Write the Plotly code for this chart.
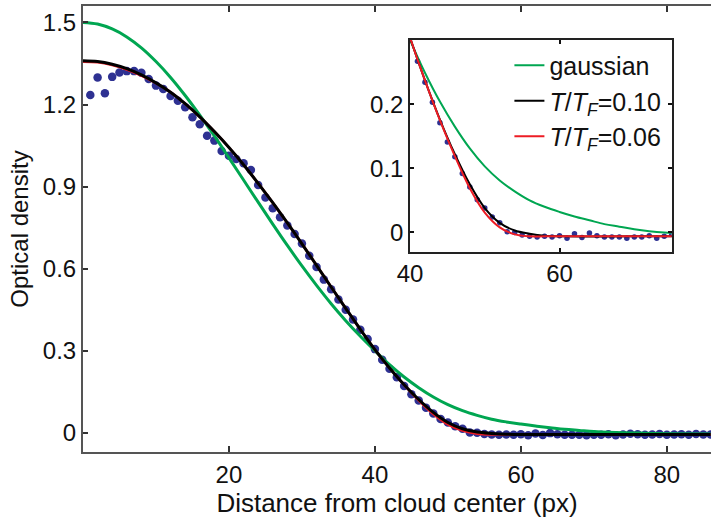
import plotly.graph_objects as go

# Measured radial profile: distance from cloud centre (px) and optical density
dist_px = list(range(1, 87))
od_measured = [
    1.235, 1.299, 1.241, 1.301, 1.317, 1.322, 1.322, 1.316, 1.293, 1.269,
    1.257, 1.231, 1.214, 1.190, 1.153, 1.128, 1.086, 1.068, 1.030, 1.013,
    1.001, 0.985, 0.961, 0.906, 0.860, 0.821, 0.788, 0.758, 0.727, 0.692,
    0.647, 0.606, 0.560, 0.525, 0.487, 0.450, 0.414, 0.377, 0.343, 0.306,
    0.267, 0.234, 0.203, 0.171, 0.141, 0.118, 0.092, 0.071, 0.051, 0.038,
    0.024, 0.015, 0.001, 0.000, -0.004, -0.006, -0.007, -0.006, -0.007, -0.005,
    -0.009, -0.002, -0.008, -0.001, -0.005, -0.007, -0.007, -0.007, -0.009, -0.007,
    -0.007, -0.005, -0.009, -0.006, -0.003, -0.005, -0.007, -0.006, -0.004, -0.007,
    -0.006, -0.005, -0.007, -0.004, -0.006, -0.006,
]

# Fitted Fermi-Dirac profiles sampled along the radius
fit_x = [0, 2, 4, 6, 8, 10, 12, 14, 16, 18, 20, 22, 24, 26, 28, 30, 32, 34, 36,
         38, 40, 42, 44, 46, 48, 50, 52, 54, 56, 58, 60, 70, 86]
od_fd_010 = [1.360, 1.357, 1.347, 1.331, 1.308, 1.279, 1.245, 1.203, 1.155, 1.101,
             1.043, 0.980, 0.912, 0.841, 0.767, 0.691, 0.612, 0.533, 0.455, 0.378,
             0.304, 0.237, 0.176, 0.122, 0.075, 0.038, 0.015, 0.003, -0.002,
             -0.005, -0.006, -0.006, -0.006]
od_fd_006 = [1.356, 1.354, 1.344, 1.328, 1.306, 1.278, 1.245, 1.203, 1.155, 1.101,
             1.043, 0.980, 0.912, 0.841, 0.767, 0.691, 0.612, 0.533, 0.455, 0.378,
             0.304, 0.237, 0.175, 0.119, 0.069, 0.031, 0.008, -0.003, -0.006,
             -0.006, -0.006, -0.006, -0.006]

# Gaussian fit sampled along the radius
gauss_x = list(range(0, 80, 2)) + [80, 86]
od_gauss = [1.500, 1.494, 1.476, 1.447, 1.407, 1.357, 1.299, 1.233, 1.161, 1.085,
            1.005, 0.924, 0.843, 0.763, 0.685, 0.610, 0.539, 0.472, 0.410, 0.353,
            0.300, 0.249, 0.204, 0.165, 0.131, 0.103, 0.081, 0.064, 0.050, 0.040,
            0.032, 0.025, 0.019, 0.013, 0.009, 0.005, 0.002, 0.000, -0.001, -0.002,
            -0.003, -0.004]

main_yticks = [0, 0.3, 0.6, 0.9, 1.2, 1.5]
main_yticklabels = ["0", "0.3", "0.6", "0.9", "1.2", "1.5"]
main_xticks = [20, 40, 60, 80]
inset_xticks = [40, 60]
inset_yticks = [0, 0.1, 0.2]
inset_yticklabels = ["0", "0.1", "0.2"]

names = ["gaussian",
         "<i>T</i>/<i>T</i><sub><i>F</i></sub>=0.10",
         "<i>T</i>/<i>T</i><sub><i>F</i></sub>=0.06"]

DOT = "#2e3192"
GREEN = "#00a651"
BLACK = "#000000"
RED = "#ed1c24"
FONT = "Liberation Sans, Arial, sans-serif"

fig = go.Figure()

# main panel
fig.add_trace(go.Scatter(x=dist_px, y=od_measured, mode="markers",
                         marker=dict(size=8.5, color=DOT), showlegend=False,
                         xaxis="x", yaxis="y"))
fig.add_trace(go.Scatter(x=gauss_x, y=od_gauss, mode="lines",
                         line=dict(color=GREEN, width=3, shape="spline", smoothing=1),
                         showlegend=False, xaxis="x", yaxis="y"))
fig.add_trace(go.Scatter(x=fit_x, y=od_fd_006, mode="lines",
                         line=dict(color=RED, width=2.5, shape="spline", smoothing=1),
                         showlegend=False, xaxis="x", yaxis="y"))
fig.add_trace(go.Scatter(x=fit_x, y=od_fd_010, mode="lines",
                         line=dict(color=BLACK, width=3, shape="spline", smoothing=1),
                         showlegend=False, xaxis="x", yaxis="y"))

# inset: tail of the same profile
tail_x = [x for x in dist_px if x > 40.5]
tail_y = [y for x, y in zip(dist_px, od_measured) if x > 40.5]
fig.add_trace(go.Scatter(x=tail_x, y=tail_y, mode="markers",
                         marker=dict(size=5.5, color=DOT), showlegend=False,
                         xaxis="x2", yaxis="y2"))
fig.add_trace(go.Scatter(x=gauss_x, y=od_gauss, mode="lines", name=names[0],
                         line=dict(color=GREEN, width=2, shape="spline", smoothing=1),
                         xaxis="x2", yaxis="y2"))
fig.add_trace(go.Scatter(x=fit_x, y=od_fd_010, mode="lines", name=names[1],
                         line=dict(color=BLACK, width=2, shape="spline", smoothing=1),
                         xaxis="x2", yaxis="y2"))
fig.add_trace(go.Scatter(x=fit_x, y=od_fd_006, mode="lines", name=names[2],
                         line=dict(color=RED, width=2, shape="spline", smoothing=1),
                         xaxis="x2", yaxis="y2"))

tick_font = dict(family=FONT, size=24, color="#111111")
title_font = dict(family=FONT, size=26, color="#111111")

fig.update_layout(
    width=711, height=520,
    margin=dict(l=83, r=0, t=6, b=68),
    plot_bgcolor="white", paper_bgcolor="white",
    font=tick_font,
    xaxis=dict(range=[0, 86.05], domain=[0, 1], anchor="y",
               tickvals=main_xticks, ticks="inside", ticklen=6, tickwidth=1.5,
               tickcolor="#333333", showline=True, linecolor="#555555", linewidth=2,
               mirror="ticks", showgrid=False, zeroline=False,
               tickfont=tick_font,
               title=dict(text="Distance from cloud center (px)", font=title_font,
                          standoff=5)),
    yaxis=dict(range=[-0.07, 1.56], domain=[0, 1], anchor="x",
               tickvals=main_yticks, ticktext=main_yticklabels,
               ticks="inside", ticklen=5, tickwidth=1.5, tickcolor="#333333",
               showline=True, linecolor="#555555", linewidth=2, mirror=False,
               showgrid=False, zeroline=False, tickfont=tick_font,
               title=dict(text="Optical density", font=tick_font, standoff=7)),
    xaxis2=dict(range=[40, 75], domain=[0.5207, 0.9374], anchor="y2",
                tickvals=inset_xticks, ticks="inside", ticklen=4, tickwidth=1.5,
                tickcolor="#111111", showline=True, linecolor="#222222", linewidth=1.5,
                mirror="ticks", showgrid=False, zeroline=False, tickfont=tick_font),
    yaxis2=dict(range=[-0.03, 0.3], domain=[0.4491, 0.9238], anchor="x2",
                tickvals=inset_yticks, ticktext=inset_yticklabels,
                ticks="inside", ticklen=4, tickwidth=1.5, tickcolor="#111111",
                showline=True, linecolor="#222222", linewidth=1.5, mirror="ticks",
                showgrid=False, zeroline=False, tickfont=tick_font),
    legend=dict(x=0.679, y=0.918, xanchor="left", yanchor="top",
                bgcolor="rgba(0,0,0,0)", font=dict(family=FONT, size=25, color="#111111"),
                tracegroupgap=0, itemwidth=30),
)

fig.write_html("out.html")
